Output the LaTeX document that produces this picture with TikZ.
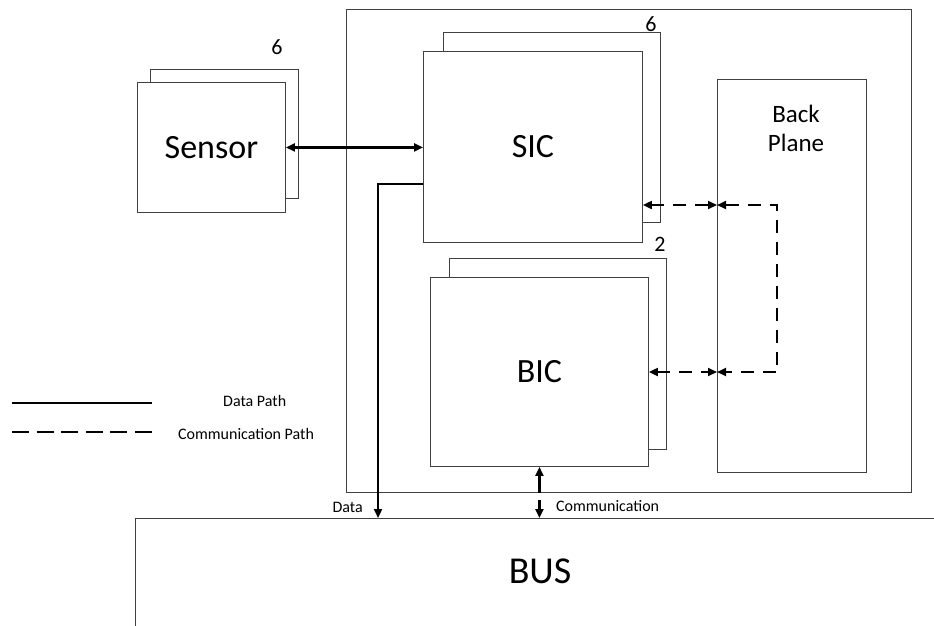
\documentclass[tikz,border=0pt]{standalone}
\usepackage{fontspec}
\setmainfont{Carlito}
\usetikzlibrary{arrows.meta}
\begin{document}
\begin{tikzpicture}[x=1pt,y=-1pt,
  box/.style={draw=black!75, line width=0.9pt, fill=white, inner sep=0pt, anchor=north west},
  bigtext/.style={font=\fontsize{34}{36}\selectfont},
  count/.style={font=\fontsize{22}{24}\selectfont, inner sep=0pt, anchor=base},
  small/.style={font=\fontsize{16}{18}\selectfont, inner sep=0pt},
  tip/.style={-{Triangle[length=9pt,width=8pt]}},
  both/.style={{Triangle[length=9pt,width=8pt]}-{Triangle[length=9pt,width=8pt]}},
  datapath/.style={draw=black, line width=2.2pt},
  commpath/.style={draw=black, line width=2pt, dash pattern=on 13pt off 9pt},
]
\useasboundingbox (0,0) rectangle (934,625);
\clip (0,0) rectangle (934,625);

% enclosure
\node[box, minimum width=565pt, minimum height=483pt] (outer) at (346,9) {};

% sensor stack
\node[box, minimum width=148pt, minimum height=129pt] (sensorB) at (150,69) {};
\node[box, minimum width=148pt, minimum height=130pt, bigtext] (sensor) at (137,82) {Sensor};
\node[count] (sensorN) at (277,54) {6};

% SIC stack
\node[box, minimum width=217pt, minimum height=190pt] (sicB) at (443,32) {};
\node[box, minimum width=219pt, minimum height=191pt, bigtext] (sic) at (423,51) {SIC};
\node[count] (sicN) at (651,31) {6};

% BIC stack
\node[box, minimum width=217pt, minimum height=191pt] (bicB) at (449,258) {};
\node[box, minimum width=218pt, minimum height=189pt, bigtext] (bic) at (430,277) {BIC};
\node[count] (bicN) at (660,251) {2};

% back plane
\node[box, minimum width=149pt, minimum height=393pt] (bp) at (717,79) {};
\node[align=center, font=\fontsize{25}{29}\selectfont, inner sep=0pt, anchor=base] (bplabel) at (796,151) {Back\\Plane};

% bus
\node[box, minimum width=830pt, minimum height=140pt] (bus) at (135,518) {};
\node[font=\fontsize{38}{40}\selectfont, inner sep=0pt, anchor=base] (buslabel) at (540,583) {BUS};

% data paths
\draw[datapath, both] (sensor.east) -- (sensor.east -| sic.west);
\draw[datapath, tip] (sic.west |- 0,184) -| (bus.north -| 378,0);

% communication to the bus
\draw[datapath, tip] (bic.south |- outer.south) -- (bic.south);
\draw[datapath, tip] (bic.south |- 0,500) -- (bic.south |- bus.north);
\node[small, anchor=base east] (datalbl) at (363,512) {Data};
\node[small, anchor=base west] (commlbl) at (556,511) {Communication};

% communication paths through the back plane
\coordinate (loopT) at (777,205);
\coordinate (loopB) at (777,372);
\draw[commpath, both] (sic.east |- loopT) -- (bp.west |- loopT);
\draw[commpath, both] (bic.east |- loopB) -- (bp.west |- loopB);
\draw[commpath, both] (bp.west |- loopT) -- (loopT) -- (loopB) -- (bp.west |- loopB);

% legend
\coordinate (legA1) at (12,403);
\coordinate (legA2) at (152,403);
\coordinate (legB1) at (12,432);
\coordinate (legB2) at (152,432);
\draw[datapath] (legA1) -- (legA2);
\draw[commpath, dash pattern=on 17pt off 7.6pt] (legB1) -- (legB2);
\node[small, anchor=base west] (legAlbl) at (223,406) {Data Path};
\node[small, anchor=base west] (legBlbl) at (178,439) {Communication Path};
\end{tikzpicture}
\end{document}
